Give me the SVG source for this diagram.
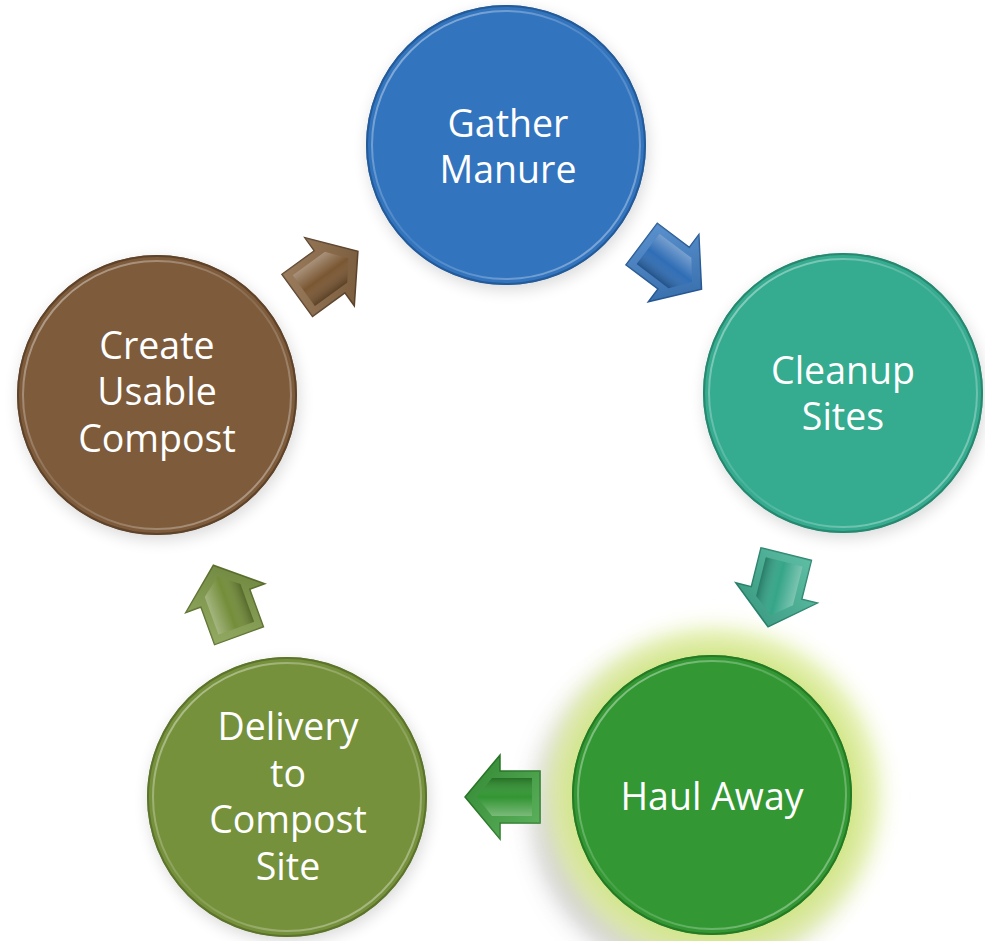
<svg xmlns="http://www.w3.org/2000/svg" width="985" height="941" viewBox="0 0 985 941">
<defs>
  <filter id="blur8" x="-50%" y="-50%" width="200%" height="200%"><feGaussianBlur stdDeviation="8"/></filter>
  <filter id="blur14" x="-50%" y="-50%" width="200%" height="200%"><feGaussianBlur stdDeviation="14"/></filter>
  <filter id="blur6" x="-50%" y="-50%" width="200%" height="200%"><feGaussianBlur stdDeviation="6"/></filter>
  <radialGradient id="glow" cx="0.5" cy="0.5" r="0.5">
    <stop offset="0.7" stop-color="#cfe57f" stop-opacity="1"/>
    <stop offset="0.85" stop-color="#e1efa8" stop-opacity="0.85"/>
    <stop offset="1" stop-color="#ffffff" stop-opacity="0"/>
  </radialGradient>
  <linearGradient id="rim" x1="0" y1="0" x2="1" y2="1">
    <stop offset="0" stop-color="#ffffff" stop-opacity="0.5"/>
    <stop offset="0.5" stop-color="#ffffff" stop-opacity="0.1"/>
    <stop offset="1" stop-color="#ffffff" stop-opacity="0.45"/>
  </linearGradient>
  <linearGradient id="face" x1="0" y1="0" x2="0" y2="1">
    <stop offset="0" stop-color="#ffffff" stop-opacity="0.35"/>
    <stop offset="0.5" stop-color="#ffffff" stop-opacity="0"/>
    <stop offset="1" stop-color="#000000" stop-opacity="0.25"/>
  </linearGradient>
  <linearGradient id="bevel" x1="0" y1="0" x2="1" y2="1">
    <stop offset="0" stop-color="#ffffff" stop-opacity="0.3"/>
    <stop offset="1" stop-color="#000000" stop-opacity="0.3"/>
  </linearGradient>
  <g id="arrowShape">
    <path d="M-38,-26 L2,-26 L2,-42 L37,0 L2,42 L2,26 L-38,26 Z"/>
  </g>
</defs>
<style>
  .lbl { font-family: "Open Sans", "Noto Sans", "DejaVu Sans", sans-serif; font-size: 37.5px; fill: #ffffff; text-anchor: middle; }
  .edge { fill: none; stroke-width: 2; }
  .ring { fill: none; stroke: url(#rim); stroke-width: 2; }
  .shadow { fill: #000000; opacity: 0.15; }
  .aface { fill: url(#face); }
  .abev { fill: url(#bevel); }
</style>

<rect width="985" height="941" fill="#ffffff"/>

<!-- glow behind Haul Away -->
<g id="haul-glow">
  <circle cx="695" cy="812" r="158" fill="#6a6a6a" opacity="0.5" filter="url(#blur14)"/>
  <circle cx="714" cy="795" r="188" fill="url(#glow)" filter="url(#blur6)"/>
</g>

<g id="node-gather">
  <circle class="shadow" cx="508" cy="150" r="140" filter="url(#blur8)"/>
  <circle cx="506" cy="145" r="140" fill="#3274be"/>
  <circle class="edge" cx="506" cy="145" r="139" stroke="#245a98"/>
  <circle class="ring" cx="506" cy="145" r="134"/>
  <text class="lbl" x="508" y="137">Gather</text>
  <text class="lbl" x="508" y="183">Manure</text>
</g>

<g id="node-cleanup">
  <circle class="shadow" cx="845" cy="398" r="140" filter="url(#blur8)"/>
  <circle cx="843" cy="393" r="140" fill="#35ab8f"/>
  <circle class="edge" cx="843" cy="393" r="139" stroke="#27876f"/>
  <circle class="ring" cx="843" cy="393" r="134"/>
  <text class="lbl" x="843" y="384">Cleanup</text>
  <text class="lbl" x="843" y="430">Sites</text>
</g>

<g id="node-haul">
  <circle cx="712" cy="795" r="140" fill="#339833"/>
  <circle class="edge" cx="712" cy="795" r="139" stroke="#257a25"/>
  <circle class="ring" cx="712" cy="795" r="134"/>
  <text class="lbl" x="712" y="810">Haul Away</text>
</g>

<g id="node-delivery">
  <circle class="shadow" cx="289" cy="802" r="140" filter="url(#blur8)"/>
  <circle cx="287" cy="797" r="140" fill="#76913c"/>
  <circle class="edge" cx="287" cy="797" r="139" stroke="#5c732c"/>
  <circle class="ring" cx="287" cy="797" r="134"/>
  <text class="lbl" x="288" y="740">Delivery</text>
  <text class="lbl" x="288" y="787">to</text>
  <text class="lbl" x="288" y="833">Compost</text>
  <text class="lbl" x="288" y="880">Site</text>
</g>

<g id="node-create">
  <circle class="shadow" cx="159" cy="400" r="140" filter="url(#blur8)"/>
  <circle cx="157" cy="395" r="140" fill="#7d5b3b"/>
  <circle class="edge" cx="157" cy="395" r="139" stroke="#5e432a"/>
  <circle class="ring" cx="157" cy="395" r="134"/>
  <text class="lbl" x="157" y="359">Create</text>
  <text class="lbl" x="157" y="405">Usable</text>
  <text class="lbl" x="157" y="452">Compost</text>
</g>

<g id="connectors">
  <!-- brown: Create -> Gather -->
  <g transform="translate(328,273) rotate(-36)">
    <use href="#arrowShape" fill="#8a6640" stroke="#5e432a" stroke-width="1.5"/>
    <path class="abev" d="M-38,-26 L2,-26 L2,-42 L37,0 L2,42 L2,26 L-38,26 Z" opacity="0.6"/>
    <path d="M-30,-19 L10,-19 L25,0 L10,19 L-30,19 Z" fill="#7a5733"/>
    <path class="aface" d="M-30,-19 L10,-19 L25,0 L10,19 L-30,19 Z"/>
  </g>
  <!-- blue: Gather -> Cleanup -->
  <g transform="translate(672,267) rotate(37)">
    <use href="#arrowShape" fill="#3a7dc8" stroke="#245a98" stroke-width="1.5"/>
    <path class="abev" d="M-38,-26 L2,-26 L2,-42 L37,0 L2,42 L2,26 L-38,26 Z" opacity="0.6"/>
    <path d="M-30,-19 L10,-19 L25,0 L10,19 L-30,19 Z" fill="#2f6db5"/>
    <path class="aface" d="M-30,-19 L10,-19 L25,0 L10,19 L-30,19 Z"/>
  </g>
  <!-- teal: Cleanup -> Haul -->
  <g transform="translate(777,591) rotate(104)">
    <use href="#arrowShape" fill="#3fb596" stroke="#27876f" stroke-width="1.5"/>
    <path class="abev" d="M-38,-26 L2,-26 L2,-42 L37,0 L2,42 L2,26 L-38,26 Z" opacity="0.6"/>
    <path d="M-30,-19 L10,-19 L25,0 L10,19 L-30,19 Z" fill="#35a588"/>
    <path class="aface" d="M-30,-19 L10,-19 L25,0 L10,19 L-30,19 Z"/>
  </g>
  <!-- green: Haul -> Delivery -->
  <g transform="translate(502,797) rotate(180)">
    <use href="#arrowShape" fill="#3ba33b" stroke="#257a25" stroke-width="1.5"/>
    <path class="abev" d="M-38,-26 L2,-26 L2,-42 L37,0 L2,42 L2,26 L-38,26 Z" opacity="0.6"/>
    <path d="M-30,-19 L10,-19 L25,0 L10,19 L-30,19 Z" fill="#329532"/>
    <path class="aface" d="M-30,-19 L10,-19 L25,0 L10,19 L-30,19 Z"/>
  </g>
  <!-- olive: Delivery -> Create -->
  <g transform="translate(226,600) rotate(-110)">
    <use href="#arrowShape" fill="#809c44" stroke="#5c732c" stroke-width="1.5"/>
    <path class="abev" d="M-38,-26 L2,-26 L2,-42 L37,0 L2,42 L2,26 L-38,26 Z" opacity="0.6"/>
    <path d="M-30,-19 L10,-19 L25,0 L10,19 L-30,19 Z" fill="#738d3a"/>
    <path class="aface" d="M-30,-19 L10,-19 L25,0 L10,19 L-30,19 Z"/>
  </g>
</g>
</svg>
